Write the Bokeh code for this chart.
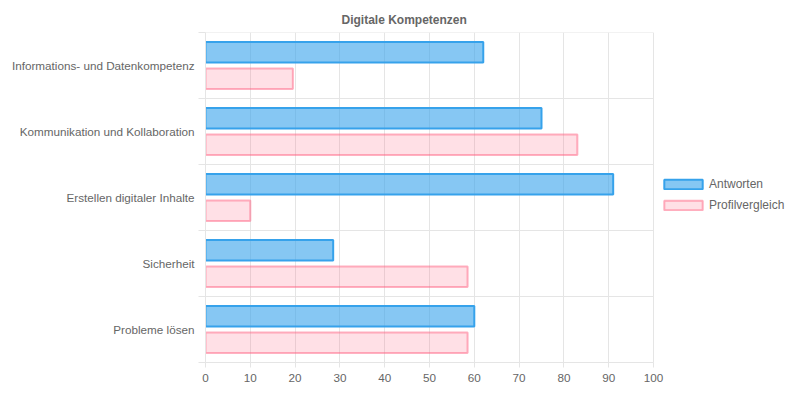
from bokeh.plotting import figure
from bokeh.models import Range1d, FixedTicker, Legend, LegendItem, ColumnDataSource
from bokeh.embed import file_html
from bokeh.resources import INLINE

# ---- data ----
categories = [
    "Informations- und Datenkompetenz",
    "Kommunikation und Kollaboration",
    "Erstellen digitaler Inhalte",
    "Sicherheit",
    "Probleme lösen",
]
antworten = [62, 75, 91, 28.5, 60]
profilvergleich = [19.5, 83, 10, 58.5, 58.5]
series_names = ["Antworten", "Profilvergleich"]
x_ticks = [0, 10, 20, 30, 40, 50, 60, 70, 80, 90, 100]
title_text = "Digitale Kompetenzen"

# ---- layout / styling ----
FONT = "Liberation Sans"
TEXT = "#666666"
GRID = "#e5e5e5"
FIG_W, FIG_H = 796, 393
LEFT, AXIS_END_PX, TOP, BOTTOM = 205, 653, 32, 31
x_min, x_max = 0, 100
# extra room right of the value axis holds the legend (like Chart.js)
x_end = x_max * (FIG_W - LEFT) / (AXIS_END_PX - LEFT)

n = len(categories)
offset = 0.2
bar_h = 0.31

centers = [n - i - 0.5 for i in range(n)]
boundaries = [float(i) for i in range(n + 1)]

src_a = ColumnDataSource(dict(y=[c + offset for c in centers], right=antworten))
src_p = ColumnDataSource(dict(y=[c - offset for c in centers], right=profilvergleich))
src_g = ColumnDataSource(dict(y=boundaries, x0=[x_min] * len(boundaries), x1=[x_max] * len(boundaries)))

p = figure(width=FIG_W, height=FIG_H, x_range=Range1d(x_min, x_end), y_range=Range1d(0, n),
           output_backend="svg", toolbar_location=None,
           min_border_left=LEFT, min_border_right=0, min_border_top=TOP, min_border_bottom=BOTTOM)
p.outline_line_color = None
p.background_fill_color = "white"
p.border_fill_color = "white"

# horizontal category separators (grid), limited to the value axis extent
p.segment(x0="x0", x1="x1", y0="y", y1="y", source=src_g, line_color=GRID, line_width=1, level="underlay")

r_a = p.hbar(y="y", right="right", left=0, height=bar_h, source=src_a,
             fill_color="#36A2EB", fill_alpha=0.6, line_color="#36A2EB", line_width=2)
r_p = p.hbar(y="y", right="right", left=0, height=bar_h, source=src_p,
             fill_color="#FF6384", fill_alpha=0.2, line_color="#FF6384", line_alpha=0.5, line_width=2)

# title
p.title.text = title_text
p.title.align = "left"
p.title.offset = 136
p.title.text_font = FONT
p.title.text_font_size = "12px"
p.title.text_font_style = "bold"
p.title.text_color = TEXT
p.title.standoff = 11

# x axis
p.xaxis.ticker = FixedTicker(ticks=x_ticks)
p.xaxis.bounds = (x_min, x_max)
p.xaxis.axis_line_color = GRID
p.xaxis.major_tick_line_color = GRID
p.xaxis.major_tick_out = 5
p.xaxis.major_tick_in = 0
p.xaxis.minor_tick_line_color = None
p.xaxis.major_label_standoff = 6
p.xaxis.major_label_text_font = FONT
p.xaxis.major_label_text_font_size = "11.7px"
p.xaxis.major_label_text_color = TEXT

# y axis
p.yaxis.ticker = FixedTicker(ticks=centers, minor_ticks=boundaries)
p.yaxis.major_label_overrides = {c: cat for c, cat in zip(centers, categories)}
p.yaxis.axis_line_color = GRID
p.yaxis.major_tick_line_color = None
p.yaxis.major_tick_out = 5
p.yaxis.major_tick_in = 0
p.yaxis.minor_tick_line_color = GRID
p.yaxis.minor_tick_out = 7
p.yaxis.minor_tick_in = 0
p.yaxis.major_label_standoff = 4
p.yaxis.major_label_text_font = FONT
p.yaxis.major_label_text_font_size = "11.7px"
p.yaxis.major_label_text_color = TEXT

# grids
p.xgrid.ticker = FixedTicker(ticks=x_ticks)
p.xgrid.grid_line_color = GRID
p.ygrid.grid_line_color = None

legend = Legend(items=[LegendItem(label=series_names[0], renderers=[r_a]),
                       LegendItem(label=series_names[1], renderers=[r_p])],
                location=(454, 147), glyph_width=48, glyph_height=12,
                label_standoff=2, label_height=20, spacing=1, padding=0, margin=0,
                border_line_color=None, background_fill_alpha=0,
                label_text_font=FONT, label_text_font_size="12px", label_text_color=TEXT)
p.add_layout(legend, "center")

open("out.html", "w").write(file_html(p, INLINE))
